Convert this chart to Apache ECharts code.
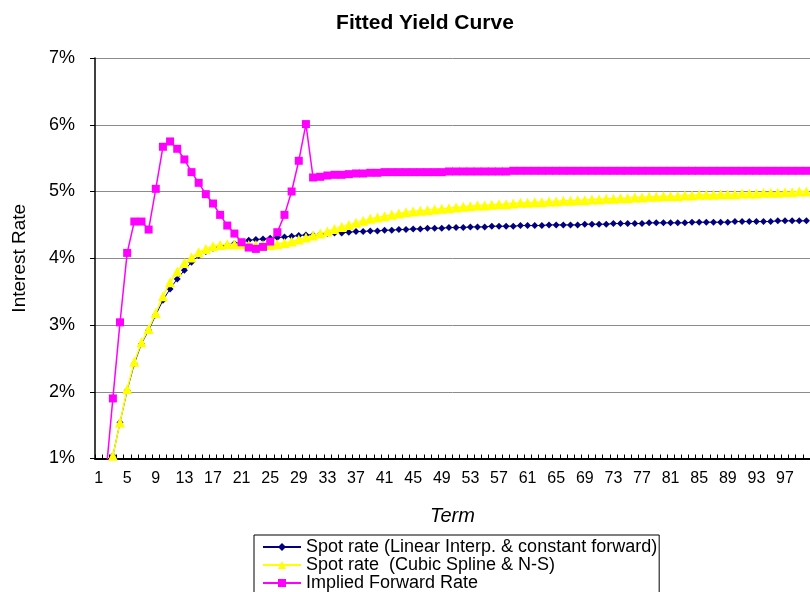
<!DOCTYPE html>
<html>
<head>
<meta charset="utf-8">
<script src="https://cdn.jsdelivr.net/npm/echarts@6/dist/echarts.min.js"></script>
<style>
html,body{margin:0;padding:0;background:#fff;}
#chart{width:810px;height:592px;}
</style>
</head>
<body>
<div id="chart"></div>
<script>
const terms = ['1','2','3','4','5','6','7','8','9','10','11','12','13','14','15','16','17','18','19','20',
'21','22','23','24','25','26','27','28','29','30','31','32','33','34','35','36','37','38','39','40',
'41','42','43','44','45','46','47','48','49','50','51','52','53','54','55','56','57','58','59','60',
'61','62','63','64','65','66','67','68','69','70','71','72','73','74','75','76','77','78','79','80',
'81','82','83','84','85','86','87','88','89','90','91','92','93','94','95','96','97','98','99','100'];

const spotLinear = [0.30, 0.60, 1.04, 1.54, 2.02, 2.42, 2.72, 2.92, 3.15, 3.37,
 3.54, 3.69, 3.82, 3.94, 4.04, 4.10, 4.15, 4.18, 4.20, 4.22,
 4.24, 4.27, 4.28, 4.29, 4.30, 4.31, 4.32, 4.33, 4.34, 4.35,
 4.35, 4.36, 4.37, 4.38, 4.38, 4.39, 4.40, 4.40, 4.41, 4.41,
 4.42, 4.42, 4.43, 4.43, 4.44, 4.44, 4.45, 4.45, 4.45, 4.46,
 4.46, 4.46, 4.47, 4.47, 4.47, 4.48, 4.48, 4.48, 4.48, 4.49,
 4.49, 4.49, 4.49, 4.50, 4.50, 4.50, 4.50, 4.50, 4.51, 4.51,
 4.51, 4.51, 4.52, 4.52, 4.52, 4.52, 4.52, 4.53, 4.53, 4.53,
 4.53, 4.53, 4.53, 4.54, 4.54, 4.54, 4.54, 4.54, 4.54, 4.55,
 4.55, 4.55, 4.55, 4.55, 4.55, 4.56, 4.56, 4.56, 4.56, 4.56];

const spotSpline = [0.30, 0.60, 1.04, 1.54, 2.04, 2.45, 2.74, 2.94, 3.18, 3.43,
 3.64, 3.80, 3.93, 4.01, 4.09, 4.14, 4.18, 4.20, 4.21, 4.21,
 4.21, 4.20, 4.20, 4.20, 4.20, 4.21, 4.23, 4.25, 4.28, 4.31,
 4.34, 4.37, 4.40, 4.44, 4.47, 4.50, 4.53, 4.56, 4.59, 4.61,
 4.63, 4.65, 4.67, 4.69, 4.70, 4.71, 4.72, 4.73, 4.74, 4.75,
 4.76, 4.77, 4.78, 4.79, 4.79, 4.80, 4.81, 4.81, 4.82, 4.83,
 4.83, 4.84, 4.84, 4.85, 4.85, 4.86, 4.86, 4.87, 4.87, 4.88,
 4.88, 4.89, 4.89, 4.90, 4.90, 4.91, 4.91, 4.92, 4.92, 4.93,
 4.93, 4.93, 4.94, 4.94, 4.95, 4.95, 4.95, 4.96, 4.96, 4.96,
 4.97, 4.97, 4.97, 4.98, 4.98, 4.98, 4.99, 4.99, 5.00, 5.00];

const forwardRate = [0.50, 0.73, 1.90, 3.04, 4.08, 4.55, 4.55, 4.43, 5.04, 5.67,
 5.75, 5.64, 5.48, 5.29, 5.13, 4.96, 4.82, 4.65, 4.49, 4.37,
 4.24, 4.16, 4.14, 4.17, 4.25, 4.39, 4.65, 5.00, 5.46, 6.01,
 5.21, 5.22, 5.24, 5.25, 5.25, 5.26, 5.27, 5.27, 5.28, 5.28,
 5.29, 5.29, 5.29, 5.29, 5.29, 5.29, 5.29, 5.29, 5.29, 5.30,
 5.30, 5.30, 5.30, 5.30, 5.30, 5.30, 5.30, 5.30, 5.31, 5.31,
 5.31, 5.31, 5.31, 5.31, 5.31, 5.31, 5.31, 5.31, 5.31, 5.31,
 5.31, 5.31, 5.31, 5.31, 5.31, 5.31, 5.31, 5.31, 5.31, 5.31,
 5.31, 5.31, 5.31, 5.31, 5.31, 5.31, 5.31, 5.31, 5.31, 5.31,
 5.31, 5.31, 5.31, 5.31, 5.31, 5.31, 5.31, 5.31, 5.31, 5.31];

const seriesNames = ['Spot rate (Linear Interp. & constant forward)', 'Spot rate  (Cubic Spline & N-S)', 'Implied Forward Rate'];

const FONT = '"Liberation Sans", Arial, sans-serif';
const chart = echarts.init(document.getElementById('chart'), null, {renderer: 'canvas'});
chart.setOption({
  backgroundColor: '#ffffff',
  animation: false,
  title: {
    text: 'Fitted Yield Curve',
    left: 420, top: 8, textAlign: 'center',
    textStyle: {fontFamily: FONT, fontWeight: 'bold', fontSize: 21, color: '#000'}
  },
  legend: {
    orient: 'vertical',
    left: 254, top: 535, height: 120,
    padding: [3, 2, 3, 8],
    itemGap: 0, itemWidth: 38, itemHeight: 10,
    borderColor: '#000', borderWidth: 1, borderRadius: 0,
    backgroundColor: '#fff',
    textStyle: {fontFamily: FONT, fontSize: 18, color: '#000', lineHeight: 17},
    data: seriesNames
  },
  grid: {left: 95, top: 58, right: -10, bottom: 133.5, containLabel: false},
  xAxis: {
    type: 'category',
    data: terms,
    boundaryGap: true,
    name: 'Term', nameLocation: 'middle', nameGap: 48,
    nameTextStyle: {fontFamily: FONT, fontStyle: 'italic', fontSize: 20, color: '#000'},
    axisLine: {lineStyle: {color: '#000', width: 2}},
    axisTick: {show: true, interval: 0, inside: true, length: 4, lineStyle: {color: '#000', width: 1}},
    axisLabel: {interval: 3, margin: 12, fontFamily: FONT, fontSize: 16, color: '#000'},
    splitLine: {show: false}
  },
  yAxis: {
    type: 'value',
    min: 1, max: 7, interval: 1,
    name: 'Interest Rate', nameLocation: 'middle', nameGap: 66, nameRotate: 90,
    nameTextStyle: {fontFamily: FONT, fontSize: 19, color: '#000'},
    axisLine: {show: true, lineStyle: {color: '#000', width: 1.5}},
    axisTick: {show: true, length: 5, lineStyle: {color: '#000'}},
    axisLabel: {formatter: '{value}%', margin: 20, fontFamily: FONT, fontSize: 18, color: '#000'},
    splitLine: {show: true, lineStyle: {color: '#8c8c8c', width: 1}}
  },
  series: [
    {
      name: seriesNames[0], type: 'line', data: spotLinear,
      symbol: 'diamond', symbolSize: 7, showAllSymbol: true,
      lineStyle: {color: '#000080', width: 1},
      itemStyle: {color: '#000080'},
      clip: true, z: 2
    },
    {
      name: seriesNames[1], type: 'line', data: spotSpline,
      symbol: 'triangle', symbolSize: 10, showAllSymbol: true,
      lineStyle: {color: '#FFFF00', width: 1.5},
      itemStyle: {color: '#FFFF00'},
      clip: true, z: 3
    },
    {
      name: seriesNames[2], type: 'line', data: forwardRate,
      symbol: 'rect', symbolSize: 8, showAllSymbol: true,
      lineStyle: {color: '#FF00FF', width: 1.5},
      itemStyle: {color: '#FF00FF'},
      clip: true, z: 4
    }
  ]
});
</script>
</body>
</html>
